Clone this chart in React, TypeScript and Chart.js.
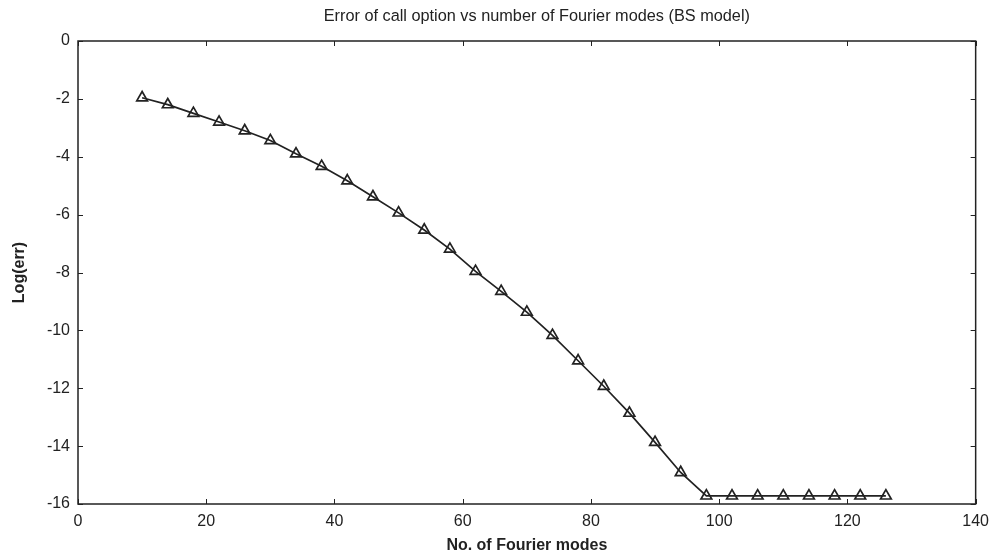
import React, { useEffect, useRef } from 'react';
import { Chart, registerables } from 'chart.js';

Chart.register(...registerables);

const TITLE = 'Error of call option vs number of Fourier modes (BS model)';
const X_LABEL = 'No. of Fourier modes';
const Y_LABEL = 'Log(err)';

const modes = [10, 14, 18, 22, 26, 30, 34, 38, 42, 46, 50, 54, 58, 62, 66, 70, 74, 78, 82, 86, 90, 94, 98, 102, 106, 110, 114, 118, 122, 126];
const logErr = [-1.96, -2.2, -2.5, -2.8, -3.1, -3.44, -3.9, -4.33, -4.83, -5.38, -5.94, -6.53, -7.19, -7.96, -8.65, -9.37, -10.17, -11.05, -11.93, -12.86, -13.87, -14.91, -15.72, -15.72, -15.72, -15.72, -15.72, -15.72, -15.72, -15.72];

const X_MIN = 0;
const X_MAX = 140;
const X_STEP = 20;
const Y_MIN = -16;
const Y_MAX = 0;
const Y_STEP = 2;

const FONT = '"Liberation Sans", Arial, Helvetica, sans-serif';
const INK = '#222';

const framePlugin = {
  id: 'frameTicksTitle',
  afterDraw(chart: any) {
    const { ctx, chartArea } = chart;
    const { left, right, top, bottom } = chartArea;
    const xs = chart.scales.x;
    const ys = chart.scales.y;
    ctx.save();
    ctx.strokeStyle = INK;
    ctx.lineWidth = 1.5;
    ctx.strokeRect(left, top, right - left, bottom - top);
    ctx.lineWidth = 1;
    const tl = 5;
    ctx.beginPath();
    xs.ticks.forEach((t: any) => {
      const px = Math.round(xs.getPixelForValue(t.value)) + 0.5;
      ctx.moveTo(px, bottom);
      ctx.lineTo(px, bottom - tl);
      ctx.moveTo(px, top);
      ctx.lineTo(px, top + tl);
    });
    ys.ticks.forEach((t: any) => {
      const py = Math.round(ys.getPixelForValue(t.value)) + 0.5;
      ctx.moveTo(left, py);
      ctx.lineTo(left + tl, py);
      ctx.moveTo(right, py);
      ctx.lineTo(right - tl, py);
    });
    ctx.stroke();
    ctx.fillStyle = INK;
    ctx.font = `16.3px ${FONT}`;
    ctx.textAlign = 'center';
    ctx.textBaseline = 'middle';
    ctx.fillText(TITLE, (left + right) / 2 + 10, 17);
    ctx.restore();
  },
};

export default function App() {
  const ref = useRef<HTMLCanvasElement>(null);

  useEffect(() => {
    document.body.style.margin = '0';
    const canvas = ref.current;
    if (!canvas) return;
    const chart = new Chart(canvas, {
      type: 'line',
      data: {
        datasets: [
          {
            data: modes.map((m, i) => ({ x: m, y: logErr[i] })),
            borderColor: INK,
            borderWidth: 1.7,
            pointStyle: 'triangle',
            pointRadius: 6.2,
            pointBorderWidth: 1.7,
            pointBorderColor: INK,
            pointBackgroundColor: 'rgba(255,255,255,0)',
            tension: 0,
            fill: false,
          },
        ],
      },
      options: {
        animation: false,
        responsive: false,
        layout: { padding: { left: 0, right: 19.5, top: 41, bottom: 0 } },
        plugins: {
          legend: { display: false },
          tooltip: { enabled: false },
          title: { display: false },
        },
        scales: {
          x: {
            type: 'linear',
            min: X_MIN,
            max: X_MAX,
            grid: { display: false, drawTicks: false },
            border: { display: false },
            ticks: {
              stepSize: X_STEP,
              color: INK,
              padding: 8,
              font: { family: FONT, size: 16 },
              maxRotation: 0,
            },
            title: {
              display: true,
              text: X_LABEL,
              color: INK,
              font: { family: FONT, size: 16, weight: 'bold' },
              padding: { top: 0, bottom: -1 },
            },
            afterFit(scale: any) {
              scale.height = 50;
            },
          },
          y: {
            type: 'linear',
            min: Y_MIN,
            max: Y_MAX,
            grid: { display: false, drawTicks: false },
            border: { display: false },
            ticks: {
              stepSize: Y_STEP,
              color: INK,
              padding: 8,
              font: { family: FONT, size: 16 },
            },
            title: {
              display: true,
              text: Y_LABEL,
              color: INK,
              font: { family: FONT, size: 16, weight: 'bold' },
              padding: { top: 10, bottom: 0 },
            },
            afterFit(scale: any) {
              scale.width = 78;
            },
          },
        },
      },
      plugins: [framePlugin],
    });
    return () => chart.destroy();
  }, []);

  return <canvas ref={ref} width={997} height={554} style={{ display: 'block' }} />;
}
